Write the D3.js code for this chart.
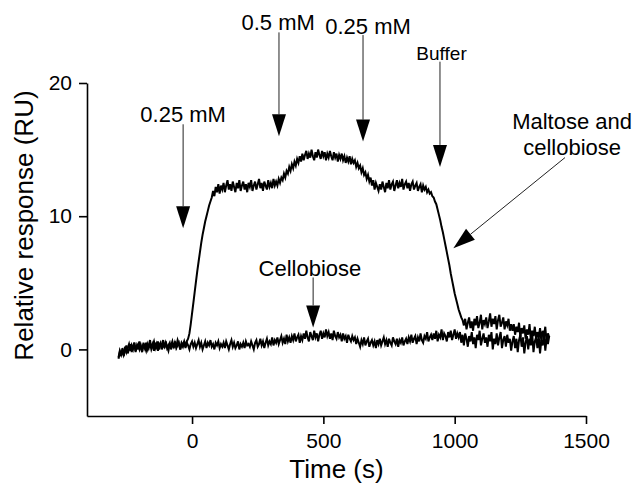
<!DOCTYPE html>
<html>
<head>
<meta charset="utf-8">
<script src="https://cdn.jsdelivr.net/npm/d3@7"></script>
<style>
body { margin: 0; background: #fff; }
text { font-family: "Liberation Sans", Arial, sans-serif; fill: #000; }
</style>
</head>
<body>
<script>
// sensorgram traces, one value every 5 s starting at -280 s
var startTime = -280;
var timeStep = 5;

var maltoseCellobiose = [
    -0.7, -0.2, -0.5, 0.1, -0.4, -0.1, 0.3, -0.3, 0.0, 0.4, -0.2, 0.2, 0.5, -0.1, 0.3, 0.0, 0.6, 0.1, -0.2, 0.4,
    0.1, 0.5, 0.0, 0.3, 0.7, 0.1, 0.4, -0.1, 0.5, 0.2, 0.6, 0.0, 0.4, 0.3, 0.7, 0.1, 0.5, 0.2, -0.1, 0.4,
    0.3, 0.6, 0.1, 0.5, 0.2, 0.7, 0.4, 0.0, 0.5, 0.3, 0.6, 0.2, 0.6, 0.8, 1.2, 1.9, 2.7, 3.5, 4.3, 5.1,
    5.9, 6.6, 7.3, 8.0, 8.6, 9.1, 9.6, 10.0, 10.4, 10.8, 11.1, 11.4, 11.9, 11.5, 12.2, 11.8, 12.4, 11.7, 12.3, 12.0,
    12.5, 11.8, 12.3, 12.7, 12.0, 12.4, 11.9, 12.6, 12.2, 11.8, 12.5, 12.1, 12.7, 11.9, 12.3, 12.6, 12.0, 12.4, 11.8, 12.5,
    12.2, 12.7, 11.9, 12.3, 12.6, 12.0, 12.4, 12.8, 12.1, 12.5, 11.9, 12.6, 12.3, 12.0, 12.7, 12.2, 12.5, 12.1, 12.8, 12.3,
    12.6, 12.3, 12.8, 12.5, 12.9, 12.7, 13.2, 12.9, 13.4, 13.2, 13.7, 13.4, 13.9, 13.6, 14.1, 13.8, 14.3, 14.0, 14.5, 14.1,
    14.7, 14.2, 14.6, 14.9, 14.3, 14.7, 14.4, 15.0, 14.5, 14.2, 14.8, 14.4, 15.0, 14.6, 14.3, 14.9, 14.5, 14.8, 14.2, 14.7,
    14.4, 14.9, 14.5, 14.2, 14.8, 14.4, 14.7, 14.1, 14.6, 14.3, 14.7, 14.2, 14.5, 14.0, 14.4, 14.1, 14.5, 13.9, 14.3, 14.0,
    14.2, 13.7, 14.0, 13.6, 13.8, 13.3, 13.6, 13.1, 13.3, 12.8, 13.1, 12.6, 12.9, 12.3, 12.7, 12.0, 12.5, 12.2, 11.9, 12.4,
    12.0, 12.6, 12.2, 11.8, 12.5, 12.1, 12.7, 12.0, 12.4, 12.6, 11.9, 12.3, 12.7, 12.1, 12.5, 12.2, 12.8, 12.0, 12.4, 12.6,
    12.1, 12.5, 11.9, 12.4, 12.6, 12.0, 12.3, 12.5, 11.9, 12.2, 12.4, 11.8, 12.3, 12.0, 12.2, 11.8, 12.0, 11.7, 11.8, 11.5,
    11.4, 11.1, 10.9, 10.5, 10.1, 9.7, 9.2, 8.8, 8.3, 7.8, 7.3, 6.8, 6.3, 5.7, 5.2, 4.7, 4.2, 3.8, 3.4, 3.0,
    2.7, 2.4, 2.2, 1.8, 2.3, 1.5, 2.0, 2.4, 1.6, 2.1, 1.4, 2.3, 1.8, 2.5, 1.6, 2.0, 2.6, 1.5, 2.2, 1.9,
    2.4, 1.6, 2.1, 2.7, 1.7, 2.3, 1.9, 2.5, 1.5, 2.2, 2.6, 1.7, 2.0, 2.4, 1.5, 2.1, 1.8, 2.3, 1.4, 1.9,
    1.4, 1.9, 1.1, 1.7, 1.3, 2.0, 0.9, 1.6, 1.2, 1.8, 0.8, 1.5, 1.1, 1.9, 0.7, 1.4, 1.0, 1.7, 0.8, 1.3,
    0.9, 1.6, 0.6, 1.4, 1.0, 1.7, 0.5, 1.2, 0.9
];

var cellobiose = [
    -0.6, -0.1, -0.4, 0.0, -0.5, 0.2, -0.2, 0.1, 0.4, -0.1, 0.3, 0.0, 0.5, -0.2, 0.2, 0.4, 0.0, 0.3, -0.1, 0.5,
    0.2, -0.1, 0.4, 0.1, 0.5, 0.0, 0.3, 0.6, 0.1, 0.4, -0.1, 0.3, 0.5, 0.0, 0.4, 0.2, 0.6, 0.1, 0.3, 0.5,
    0.0, 0.4, 0.2, 0.6, 0.1, 0.3, 0.5, 0.0, 0.4, 0.2, 0.6, 0.1, 0.5, 0.3, 0.0, 0.4, 0.6, 0.2, 0.5, 0.1,
    0.4, 0.7, 0.2, 0.5, 0.0, 0.3, 0.6, 0.1, 0.5, 0.3, 0.7, 0.2, 0.4, 0.0, 0.5, 0.3, 0.6, 0.1, 0.4, 0.2,
    0.5, 0.1, 0.6, 0.3, 0.0, 0.4, 0.7, 0.2, 0.5, 0.1, 0.3, 0.6, 0.0, 0.4, 0.2, 0.5, 0.1, 0.6, 0.3, 0.4,
    0.2, 0.6, 0.3, 0.0, 0.5, 0.7, 0.2, 0.4, 0.8, 0.3, 0.6, 0.1, 0.5, 0.8, 0.3, 0.6, 0.4, 0.9, 0.3, 0.7,
    0.5, 0.9, 0.4, 0.7, 1.0, 0.5, 0.8, 0.4, 1.1, 0.6, 0.9, 0.5, 1.0, 0.7, 1.2, 0.6, 0.9, 1.1, 0.5, 1.0,
    0.7, 1.2, 0.8, 1.4, 0.9, 0.6, 1.3, 1.0, 0.7, 1.4, 0.9, 1.2, 0.6, 1.1, 1.4, 0.8, 1.2, 0.9, 1.5, 1.0,
    1.3, 0.8, 1.2, 0.7, 1.4, 1.0, 0.8, 1.3, 0.9, 1.1, 0.6, 1.2, 0.8, 1.0, 0.5, 1.1, 0.8, 0.6, 1.0, 0.7,
    0.9, 0.4, 0.8, 0.5, 0.2, 0.7, 0.4, 0.9, 0.3, 0.6, 0.8, 0.2, 0.5, 0.7, 0.3, 0.6, 0.1, 0.7, 0.4, 0.8,
    0.3, 0.6, 0.9, 0.4, 0.7, 0.2, 0.8, 0.5, 0.3, 0.9, 0.6, 0.4, 0.8, 0.2, 0.7, 0.5, 0.9, 0.3, 0.6, 0.8,
    0.4, 0.9, 0.6, 1.1, 0.5, 0.8, 1.0, 0.4, 0.9, 0.6, 1.2, 0.7, 0.5, 1.0, 0.8, 1.3, 0.6, 0.9, 1.1, 0.7,
    1.2, 0.8, 1.4, 0.6, 1.1, 0.9, 1.5, 0.7, 1.2, 1.0, 0.6, 1.3, 0.9, 1.4, 0.7, 1.1, 1.5, 0.8, 1.2, 0.9,
    1.3, 0.5, 1.1, 0.3, 1.2, 0.8, 0.2, 1.0, 0.6, 1.3, 0.4, 0.9, 0.1, 1.1, 0.7, 1.4, 0.3, 0.8, 1.2, 0.5,
    0.9, 0.2, 1.1, 0.6, 1.3, 0.0, 0.8, 0.4, 1.2, 0.3, 0.9, 1.3, 0.1, 0.7, 1.0, 0.2, 1.1, 0.5, 0.8, -0.1,
    0.6, 1.0, 0.1, 0.8, -0.2, 0.7, 1.1, 0.2, 0.9, -0.3, 0.5, 1.0, 0.0, 0.8, 0.3, 1.2, -0.2, 0.6, 0.9, 0.1,
    1.0, -0.3, 0.7, 0.3, 1.2, -0.1, 0.8, 0.4, 1.0
];

var xTicks = [0, 500, 1000, 1500];
var yTicks = [0, 10, 20];

// arrows: label position, arrow start and tip, in data units (s, RU)
var annotations = [
    {lines: ["0.25 mM"], t: -34, vText: 17.1, tArrow: -34, vStart: 16.9, tTip: -34, vTip: 9.1, size: 22},
    {lines: ["0.5 mM"], t: 328, vText: 24.0, tArrow: 331, vStart: 23.8, tTip: 331, vTip: 16.0, size: 22},
    {lines: ["0.25 mM"], t: 670, vText: 23.7, tArrow: 651, vStart: 23.6, tTip: 651, vTip: 15.6, size: 22},
    {lines: ["Buffer"], t: 950, vText: 21.7, tArrow: 944, vStart: 21.6, tTip: 944, vTip: 13.7, size: 19},
    {lines: ["Cellobiose"], t: 449, vText: 5.5, tArrow: 461, vStart: 5.4, tTip: 461, vTip: 1.65, size: 22},
    {lines: ["Maltose and", "cellobiose"], t: 1447, vText: 16.55, tArrow: 1420, vStart: 14.4, tTip: 995, vTip: 7.6, size: 22}
];

var width = 499;
var height = 333;
var margin = {left: 87, right: 53, top: 83, bottom: 81};

var svg = d3.select("body").append("svg")
    .attr("width", width + margin.left + margin.right)
    .attr("height", height + margin.top + margin.bottom)
    .append("g")
        .attr("transform", "translate(" + margin.left + "," + margin.top + ")");

var xScale = d3.scaleLinear()
    .domain([-400, 1500])
    .range([0, width]);

var yScale = d3.scaleLinear()
    .domain([-5, 20])
    .range([height, 0]);

var xAxis = svg.append("g")
    .attr("transform", "translate(0," + height + ")")
    .call(d3.axisBottom(xScale).tickValues(xTicks).tickFormat(d3.format("d"))
        .tickSize(8).tickSizeOuter(0).tickPadding(9));

var yAxis = svg.append("g")
    .call(d3.axisLeft(yScale).tickValues(yTicks).tickFormat(d3.format("d"))
        .tickSize(8).tickSizeOuter(0).tickPadding(7));

[xAxis, yAxis].forEach(function(g){
    g.attr("font-family", null).attr("font-size", 21);
    g.selectAll("path, line").attr("stroke", "#000").attr("stroke-width", 1.6);
});

var line = d3.line()
    .x(function(d, i){ return xScale(startTime + i * timeStep); })
    .y(function(d){ return yScale(d); });

[cellobiose, maltoseCellobiose].forEach(function(series){
    svg.append("path")
        .datum(series)
        .attr("d", line)
        .attr("fill", "none")
        .attr("stroke", "#000")
        .attr("stroke-width", 2);
});

// annotation arrows
var headLen = 22, headHalf = 7;
annotations.forEach(function(a){
    var x1 = xScale(a.tArrow), y1 = yScale(a.vStart);
    var x2 = xScale(a.tTip), y2 = yScale(a.vTip);
    var ang = Math.atan2(y2 - y1, x2 - x1);
    var bx = x2 - headLen * Math.cos(ang), by = y2 - headLen * Math.sin(ang);
    var px = -Math.sin(ang) * headHalf, py = Math.cos(ang) * headHalf;

    svg.append("line")
        .attr("x1", x1).attr("y1", y1)
        .attr("x2", bx).attr("y2", by)
        .attr("stroke", "#222")
        .attr("stroke-width", 1);

    svg.append("path")
        .attr("d", "M" + x2 + "," + y2 + "L" + (bx + px) + "," + (by + py) +
            "L" + (bx - px) + "," + (by - py) + "Z")
        .attr("fill", "#000");

    var txt = svg.append("text")
        .attr("x", xScale(a.t))
        .attr("y", yScale(a.vText))
        .attr("text-anchor", "middle")
        .attr("font-size", a.size);
    a.lines.forEach(function(s, k){
        txt.append("tspan")
            .attr("x", xScale(a.t))
            .attr("dy", k === 0 ? 0 : "1.18em")
            .text(s);
    });
});

svg.append("text")
    .text("Time (s)")
    .attr("x", width / 2)
    .attr("y", height + 62)
    .attr("text-anchor", "middle")
    .attr("font-size", 26);

svg.append("text")
    .text("Relative response (RU)")
    .attr("text-anchor", "middle")
    .attr("font-size", 26)
    .attr("transform", "translate(-54," + (yScale(9.3)) + ") rotate(-90)");
</script>
</body>
</html>
